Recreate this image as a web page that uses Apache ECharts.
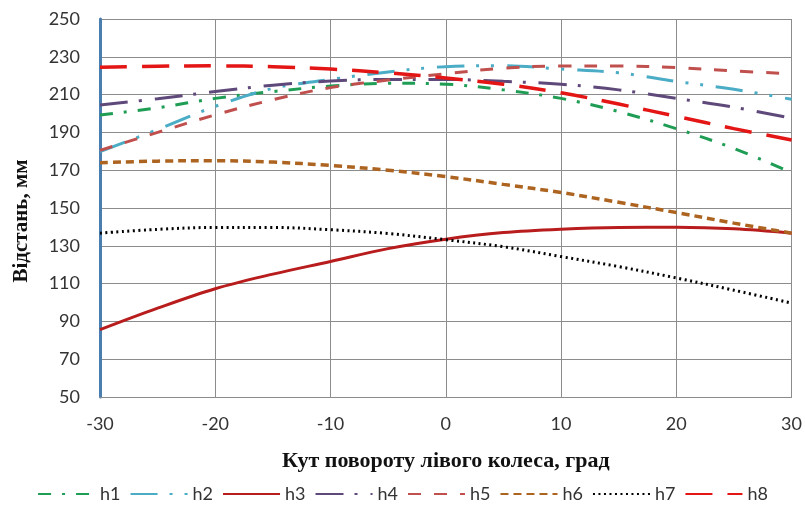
<!DOCTYPE html>
<html>
<head>
<meta charset="utf-8">
<script src="https://cdn.jsdelivr.net/npm/echarts@6/dist/echarts.min.js"></script>
<style>html,body{margin:0;padding:0;background:#fff;}#c{width:805px;height:518px;}</style>
</head>
<body>
<div id="c"></div>
<script>
const angles = [-30, -25, -20, -15, -10, -5, 0, 5, 10, 15, 20, 25, 30];
const yTicks = [50, 70, 90, 110, 130, 150, 170, 190, 210, 230, 250];
const h1 = [199.2, 203, 208, 211.6, 214.5, 216, 215.5, 212.5, 208, 201, 192, 181.5, 168.7];
const h2 = [179.8, 191.5, 203.8, 213.3, 218, 222, 224.8, 225.3, 223.5, 221.5, 217, 212.8, 207.5];
const h3 = [85.6, 97, 107.3, 115, 121.7, 128.5, 133.5, 137, 138.8, 139.7, 139.8, 139, 136.7];
const h4 = [204.5, 207.8, 211.6, 215, 217.2, 218, 218, 217, 215.5, 212.5, 208, 203.3, 197.5];
const h5 = [180.5, 190, 199.3, 207.3, 213.7, 217.7, 221, 224, 225.1, 225.1, 224.3, 222.5, 221];
const h6 = [174, 174.8, 175, 174.3, 172.5, 170, 166.6, 162.5, 158.2, 153, 147.6, 142, 136.7];
const h7 = [136.7, 138.7, 139.7, 139.7, 138.5, 136.5, 133.2, 129.5, 124.3, 119, 113, 106.5, 99.7];
const h8 = [224.5, 225, 225.2, 224.8, 223.5, 221.5, 218.8, 215.5, 211, 205, 198.5, 192, 186];
const names = ['h1', 'h2', 'h3', 'h4', 'h5', 'h6', 'h7', 'h8'];
const values = [h1, h2, h3, h4, h5, h6, h7, h8];

const styles = [
  {color: '#1f9d55', width: 3, type: [13, 11, 3, 11]},
  {color: '#4bacc6', width: 3, type: [27, 12, 3, 12, 3, 13]},
  {color: '#b81c1c', width: 3, type: 'solid'},
  {color: '#5f497a', width: 3, type: [28, 11, 3, 13]},
  {color: '#c0504d', width: 3, type: [13, 13]},
  {color: '#ad6420', width: 3.5, type: [8, 5]},
  {color: '#000000', width: 3, type: [2, 3.5]},
  {color: '#e41515', width: 3.5, type: [27, 15]}
];

const series = names.map((n, i) => ({
  name: n,
  type: 'line',
  smooth: 0.35,
  showSymbol: false,
  symbol: 'none',
  data: angles.map((a, k) => [a, values[i][k]]),
  lineStyle: {color: styles[i].color, width: styles[i].width, type: styles[i].type},
  itemStyle: {color: styles[i].color},
  z: 3 + i
}));

const chart = echarts.init(document.getElementById('c'), null, {renderer: 'canvas'});
chart.setOption({
  animation: false,
  backgroundColor: '#ffffff',
  grid: {left: 100, right: 12, top: 19, bottom: 121, containLabel: false},
  legend: {
    data: names,
    bottom: 10,
    left: 'center',
    itemWidth: 57,
    itemHeight: 14,
    itemGap: 9,
    itemStyle: {opacity: 0},
    textStyle: {fontFamily: 'Lato', fontSize: 18, color: '#333'}
  },
  xAxis: {
    type: 'value',
    min: -30, max: 30, interval: 10,
    name: 'Кут повороту лівого колеса, град',
    nameLocation: 'middle',
    nameGap: 53,
    nameTextStyle: {fontFamily: 'Liberation Serif', fontWeight: 'bold', fontSize: 22, color: '#111'},
    axisLine: {show: true, onZero: false, lineStyle: {color: '#8c8c8c', width: 1}},
    axisTick: {show: false},
    axisLabel: {fontFamily: 'Lato', fontSize: 18, color: '#333', margin: 18},
    splitLine: {show: true, lineStyle: {color: '#8c8c8c', width: 1}}
  },
  yAxis: {
    type: 'value',
    min: 50, max: 250, interval: 20,
    name: 'Відстань, мм',
    nameLocation: 'middle',
    nameGap: 68,
    nameTextStyle: {fontFamily: 'Liberation Serif', fontWeight: 'bold', fontSize: 21, color: '#111', padding: [0, 0, 0, -26]},
    axisLine: {show: true, onZero: false, lineStyle: {color: '#4a7eb0', width: 3}},
    axisTick: {show: false},
    axisLabel: {fontFamily: 'Lato', fontSize: 18, color: '#333', margin: 20,
      formatter: v => yTicks.includes(v) ? String(v) : ''},
    splitLine: {show: true, lineStyle: {color: '#8c8c8c', width: 1}}
  },
  series: series
});
</script>
</body>
</html>
